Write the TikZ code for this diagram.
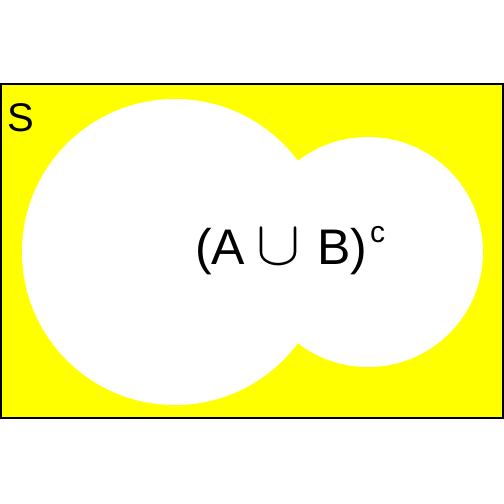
\documentclass[tikz,border=0pt]{standalone}
\usepackage{fontspec}
\usepackage{graphicx}
\setmainfont{Liberation Sans}
\begin{document}
\begin{tikzpicture}[x=1pt,y=-1pt]
\useasboundingbox (0,0) rectangle (504,504);
\definecolor{venny}{RGB}{255,255,0}
\node[draw=black,line width=1.5pt,fill=venny,minimum width=502pt,minimum height=334pt,inner sep=0pt] (S) at (252,251) {};
\fill[white] (175,252) circle (153);
\fill[white] (368,252) circle (115);
\node[anchor=west,font=\fontsize{40}{44}\selectfont,inner sep=0pt] (lab) at (7,118) {S};
\node[font=\fontsize{50}{54}\selectfont,inner sep=0pt] (txt) at (290,251) {(A\hspace{12pt}\resizebox{44pt}{35pt}{$\cup$}\hspace{16pt}B)\hspace{3pt}\raisebox{0.44em}{\fontsize{30}{32}\selectfont c}};
\end{tikzpicture}
\end{document}
